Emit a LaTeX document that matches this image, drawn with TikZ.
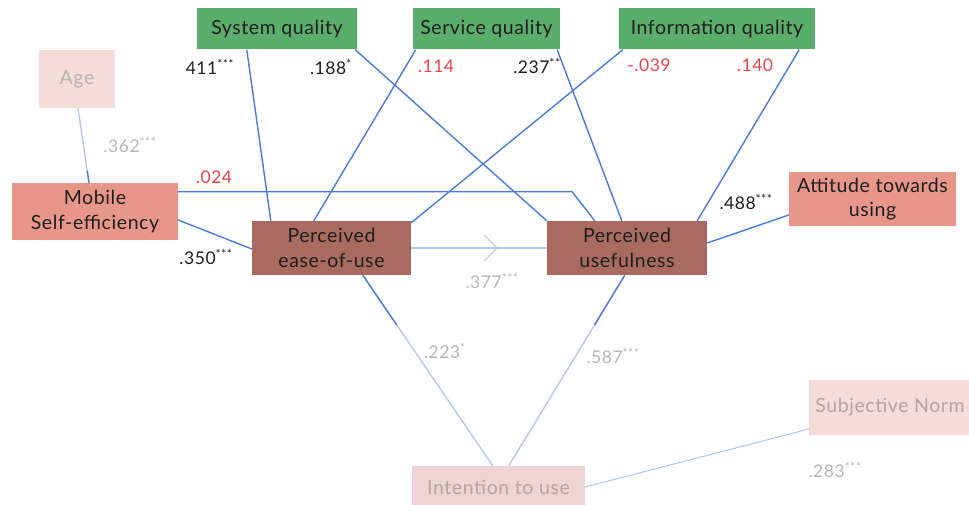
\documentclass[tikz,border=0pt]{standalone}
\usepackage{fontspec}
\setmainfont{Lato}[LetterSpace=3]
\usetikzlibrary{arrows.meta,decorations.markings,calc}

\definecolor{qgreen}{HTML}{5BAD6B}
\definecolor{salmon}{HTML}{E8968A}
\definecolor{brownbox}{HTML}{A96A5F}
\definecolor{palebox}{HTML}{F6DCD8}
\definecolor{intbox}{HTML}{EED5D3}
\definecolor{paletext}{HTML}{B3A4A3}
\definecolor{linkblue}{HTML}{4A7BD8}
\definecolor{lightblue}{HTML}{B5C8EC}
\definecolor{sigred}{HTML}{E0454E}
\definecolor{siggray}{HTML}{B5B5B5}
\definecolor{inkdark}{HTML}{1E1E1E}

\tikzset{
  box/.style={rectangle, inner sep=0pt, align=center, font=\fontsize{19.5}{24.5}\selectfont, text=inkdark},
  qualbox/.style={box, fill=qgreen},
  salbox/.style={box, fill=salmon},
  corebox/.style={box, fill=brownbox},
  fadebox/.style={box, fill=palebox, text=paletext},
  link/.style={draw=linkblue, line width=1.4pt},
  faintlink/.style={draw=lightblue, line width=1.4pt},
  coef/.style={font=\fontsize{17.5}{20}\selectfont, inner sep=0pt, text=inkdark},
  coefred/.style={coef, text=sigred},
  coefgray/.style={coef, text=siggray}
}

\begin{document}
\begin{tikzpicture}[x=1pt,y=-1pt]
\useasboundingbox (0,0) rectangle (969,505);

% boxes
\node[fadebox, minimum width=76pt, minimum height=58pt, text=siggray] (age) at (77,79) {Age};
\node[qualbox, minimum width=160pt, minimum height=41pt] (sys) at (277,29) {System quality};
\node[qualbox, minimum width=147pt, minimum height=41pt] (serv) at (486.5,29) {Service quality};
\node[qualbox, minimum width=196pt, minimum height=41pt] (info) at (717,29) {Information quality};
\node[salbox, minimum width=166pt, minimum height=57pt] (mob) at (95,211.5) {Mobile\\Self-efficiency};
\node[corebox, minimum width=159pt, minimum height=54pt] (peou) at (331.5,248) {Perceived\\ease-of-use};
\node[corebox, minimum width=160pt, minimum height=54pt] (pu) at (627,248) {Perceived\\usefulness};
\node[salbox, minimum width=167pt, minimum height=54pt] (att) at (872.5,199) {Attitude towards\\using};
\node[fadebox, fill=intbox, minimum width=173pt, minimum height=44pt] (int) at (498.5,488) {\raisebox{2pt}{Intention to use}};
\node[fadebox, minimum width=166pt, minimum height=55pt] (sn) at (892,407.5) {\hspace*{-4pt}Subjective Norm};

% quality paths
\draw[link] ([xshift=50pt]sys.south west) -- ([xshift=19pt]peou.north west);
\draw[link] ([xshift=-2pt]sys.south east) -- (pu.north west);
\draw[link] ([xshift=3pt]serv.south west) -- ([xshift=62pt]peou.north west);
\draw[link] ([xshift=-3pt]serv.south east) -- ([xshift=75pt]pu.north west);
\draw[link] ([xshift=4pt]info.south west) -- ([yshift=-2pt]peou.north east);
\draw[link] ([xshift=-16pt]info.south east) -- ([xshift=-10pt]pu.north east);

% self-efficiency paths
\draw[link] ([yshift=-9pt]mob.north east) -- ++(394,0) -- ([xshift=48pt]pu.north west);
\draw[link] ([yshift=-8.5pt]mob.east) -- ([yshift=-1pt]peou.west);
\draw[faintlink] ([xshift=1pt]age.south) -- ([xshift=-6pt]mob.north);
\draw[link] ($([xshift=1pt]age.south)!0.84!([xshift=-6pt]mob.north)$) -- ([xshift=-6pt]mob.north);

% ease-of-use to usefulness
\draw[faintlink, postaction={decorate}, decoration={markings,
  mark=at position 0.64 with {\arrow[lightblue, line width=1.2pt]{Straight Barb[length=13pt,width=26pt]}}}]
  (peou.east) -- (pu.west);

% intention paths
\draw[faintlink] ([xshift=111pt]peou.south west) -- ([xshift=81pt]int.north west);
\draw[link] ([xshift=111pt]peou.south west) -- ($([xshift=111pt]peou.south west)!0.26!([xshift=81pt]int.north west)$);
\draw[faintlink] ([xshift=78pt]pu.south west) -- ([xshift=97pt]int.north west);
\draw[link] ([xshift=78pt]pu.south west) -- ($([xshift=78pt]pu.south west)!0.26!([xshift=97pt]int.north west)$);
\draw[faintlink, line width=1.1pt] ([yshift=-21.5pt]sn.west) -- ([yshift=1pt]int.east);

% attitude
\draw[link] ([yshift=5pt]pu.east) -- ([yshift=-16pt]att.west);

% coefficients
\node[coef] (c1) at (210,67) {411\textsuperscript{***}};
\node[coef] (c2) at (331,67) {.188\textsuperscript{*}};
\node[coefred] (c3) at (436,66) {.114};
\node[coef] (c4) at (537,66) {.237\textsuperscript{**}};
\node[coefred] (c5) at (649,65) {-.039};
\node[coefred] (c6) at (755,65) {.140};
\node[coefgray] (c7) at (130,145) {.362\textsuperscript{***}};
\node[coefred] (c8) at (214,177) {.024};
\node[coef] (c9) at (206,257) {.350\textsuperscript{***}};
\node[coefgray] (c10) at (492,281) {.377\textsuperscript{***}};
\node[coefgray] (c11) at (445,351) {.223\textsuperscript{*}};
\node[coefgray] (c12) at (613,356) {.587\textsuperscript{***}};
\node[coef] (c13) at (746,202) {.488\textsuperscript{***}};
\node[coefgray] (c14) at (835,470) {.283\textsuperscript{***}};
\end{tikzpicture}
\end{document}
